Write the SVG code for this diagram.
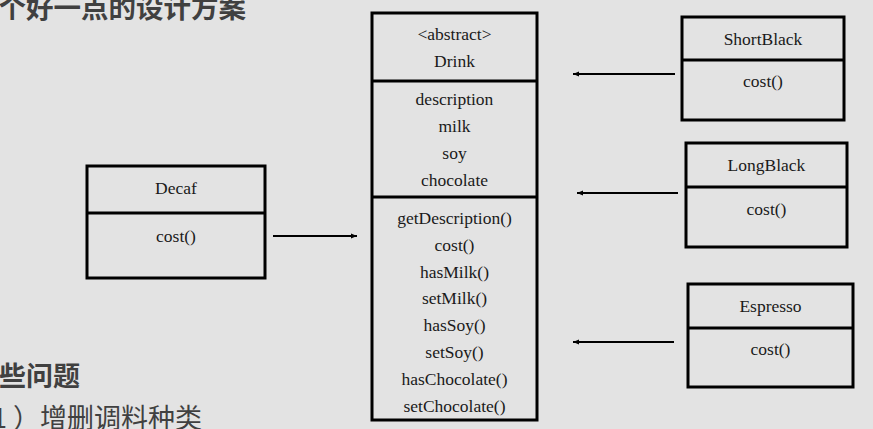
<svg xmlns="http://www.w3.org/2000/svg" width="873" height="429" viewBox="0 0 873 429">
<style>
.bg{fill:#e3e3e3}
.box{fill:none;stroke:#000;stroke-width:3}
.div{stroke:#000;stroke-width:3}
.t{font-size:17.5px;fill:#1a1a1a;text-anchor:middle}
.cn{fill:#404040}
.conn{stroke:#000;stroke-width:2;fill:none}
</style>
<defs>
<marker id="ah" markerUnits="userSpaceOnUse" markerWidth="8" markerHeight="6" refX="6" refY="3" orient="auto">
<path d="M0,0.5 L6,3 L0,5.5 Z" fill="#000"/>
</marker>
</defs>
<rect class="bg" x="0" y="0" width="873" height="429"/>

<g font-family="Noto Sans CJK SC, sans-serif">
<text class="cn" x="-1.5" y="18" font-size="27.5" font-weight="700">个好一点的设计方案</text>
<text class="cn" x="-1" y="386" font-size="27" font-weight="700">些问题</text>
<text class="cn" x="-8" y="428" font-size="27">1 ）增删调料种类</text>
</g>

<g id="drink" font-family="Liberation Serif, Times New Roman, DejaVu Serif, serif">
<rect class="box" x="372" y="13" width="165" height="407"/>
<line class="div" x1="372" y1="81" x2="537" y2="81"/>
<line class="div" x1="372" y1="197" x2="537" y2="197"/>
<text class="t" x="454.5" y="40">&lt;abstract&gt;</text>
<text class="t" x="454.5" y="67">Drink</text>
<text class="t" x="454.5" y="105">description</text>
<text class="t" x="454.5" y="132">milk</text>
<text class="t" x="454.5" y="159">soy</text>
<text class="t" x="454.5" y="186">chocolate</text>
<text class="t" x="454.5" y="224">getDescription()</text>
<text class="t" x="454.5" y="251">cost()</text>
<text class="t" x="454.5" y="278">hasMilk()</text>
<text class="t" x="454.5" y="304">setMilk()</text>
<text class="t" x="454.5" y="331">hasSoy()</text>
<text class="t" x="454.5" y="358">setSoy()</text>
<text class="t" x="454.5" y="385">hasChocolate()</text>
<text class="t" x="454.5" y="412">setChocolate()</text>
</g>

<g id="decaf" font-family="Liberation Serif, Times New Roman, DejaVu Serif, serif">
<rect class="box" x="87" y="166" width="178" height="112"/>
<line class="div" x1="87" y1="213" x2="265" y2="213"/>
<text class="t" x="176" y="194">Decaf</text>
<text class="t" x="176" y="242">cost()</text>
</g>

<g id="shortblack" font-family="Liberation Serif, Times New Roman, DejaVu Serif, serif">
<rect class="box" x="682" y="17" width="162" height="103"/>
<line class="div" x1="682" y1="60" x2="844" y2="60"/>
<text class="t" x="763" y="45">ShortBlack</text>
<text class="t" x="763" y="87">cost()</text>
</g>

<g id="longblack" font-family="Liberation Serif, Times New Roman, DejaVu Serif, serif">
<rect class="box" x="686" y="143" width="161" height="104"/>
<line class="div" x1="686" y1="187" x2="847" y2="187"/>
<text class="t" x="766.5" y="171">LongBlack</text>
<text class="t" x="766.5" y="215">cost()</text>
</g>

<g id="espresso" font-family="Liberation Serif, Times New Roman, DejaVu Serif, serif">
<rect class="box" x="688" y="284" width="165" height="103"/>
<line class="div" x1="688" y1="328" x2="853" y2="328"/>
<text class="t" x="770.5" y="312">Espresso</text>
<text class="t" x="770.5" y="355">cost()</text>
</g>

<g id="connectors">
<line class="conn" x1="273" y1="236" x2="357" y2="236" marker-end="url(#ah)"/>
<line class="conn" x1="675" y1="74" x2="573" y2="74" marker-end="url(#ah)"/>
<line class="conn" x1="678" y1="193" x2="577" y2="193" marker-end="url(#ah)"/>
<line class="conn" x1="674" y1="342" x2="573" y2="342" marker-end="url(#ah)"/>
</g>
</svg>
